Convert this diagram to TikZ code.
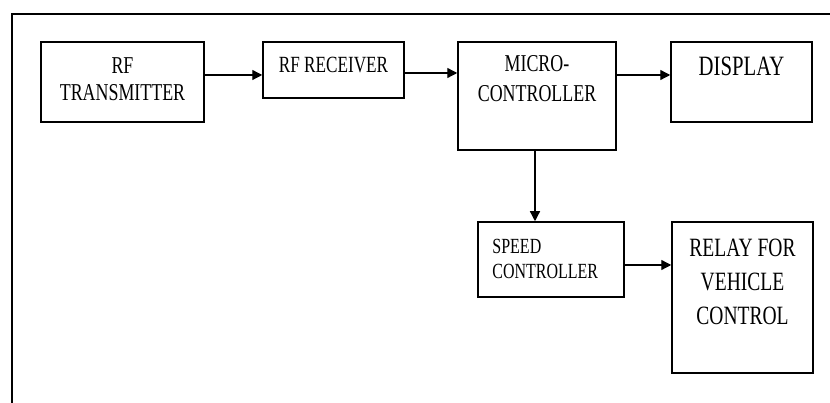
\documentclass[tikz,border=0pt]{standalone}
\usepackage{fontspec}
\newfontfamily\blkfont[FakeStretch=0.74]{Liberation Serif}
\usetikzlibrary{arrows.meta}
\tikzset{
	blk/.style={draw, line width=1.5pt, inner sep=0pt},
	lbl/.style={anchor=north, inner sep=0pt, align=center},
	arr/.style={-{Triangle[length=10pt,width=10pt]}, line width=1.3pt},
}
\begin{document}
\begin{tikzpicture}[x=1pt, y=1pt]
		\useasboundingbox (0,0) rectangle (830,403);
		\draw[line width=2pt] (12,0) -- (12,389) -- (830,389);

		\node[blk, minimum width=163pt, minimum height=80pt,
			label={[lbl, yshift=-16pt, font=\blkfont\fontsize{24.2}{27}\selectfont]north:RF\\TRANSMITTER}] (tx) at (122.5,321) {};
		\node[blk, minimum width=141pt, minimum height=56pt,
			label={[lbl, yshift=-16pt, font=\blkfont\fontsize{23.2}{26}\selectfont]north:RF RECEIVER}] (rx) at (333.5,333) {};
		\node[blk, minimum width=158pt, minimum height=108pt,
			label={[lbl, yshift=-14pt, font=\blkfont\fontsize{24.2}{30}\selectfont]north:MICRO-\\CONTROLLER}] (mc) at (537,307) {};
		\node[blk, minimum width=141pt, minimum height=80pt,
			label={[lbl, yshift=-16pt, font=\blkfont\fontsize{28}{30}\selectfont]north:DISPLAY}] (disp) at (741.5,321) {};
		\node[blk, minimum width=146pt, minimum height=75pt,
			label={[lbl, anchor=north west, align=left, xshift=15pt, yshift=-18pt, font=\blkfont\fontsize{21.6}{25}\selectfont]north west:SPEED\\CONTROLLER}] (spd) at (551,143.5) {};
		\node[blk, minimum width=141pt, minimum height=151pt,
			label={[lbl, yshift=-18pt, font=\blkfont\fontsize{26.4}{34}\selectfont]north:RELAY FOR\\VEHICLE\\CONTROL}] (rel) at (742.5,105.5) {};

		\draw[arr] ([yshift=7pt]tx.east) -- ([yshift=-5pt]rx.west);
		\draw[arr] ([yshift=-3pt]rx.east) -- ([yshift=23pt]mc.west);
		\draw[arr] ([yshift=21pt]mc.east) -- ([yshift=7pt]disp.west);
		\draw[arr] ([xshift=-2pt]mc.south) -- ([xshift=-16pt]spd.north);
		\draw[arr] ([yshift=-5.5pt]spd.east) -- ([yshift=32.5pt]rel.west);
	\end{tikzpicture}
\end{document}
